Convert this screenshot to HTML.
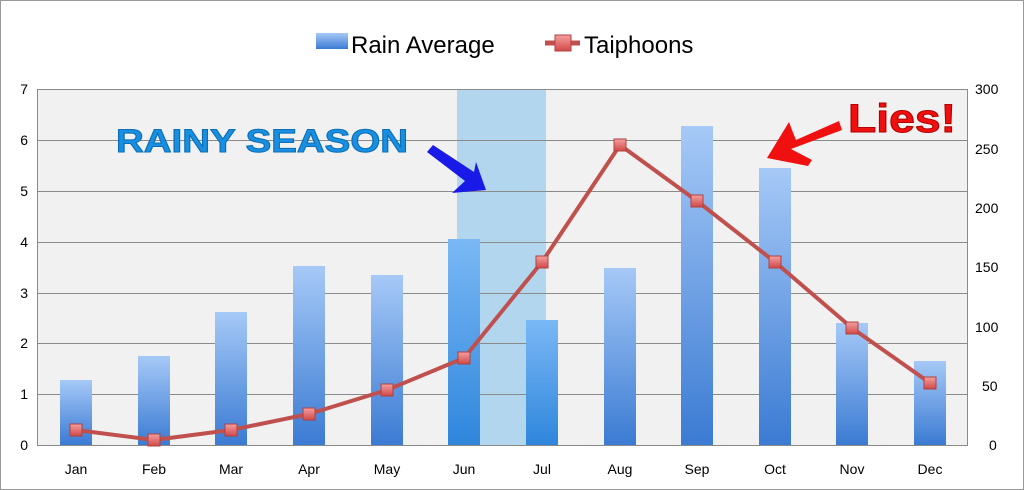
<!DOCTYPE html>
<html><head><style>body{margin:0;background:#fff}svg{display:block}</style></head><body>
<svg width="1024" height="490" xmlns="http://www.w3.org/2000/svg" font-family="Liberation Sans, sans-serif">
<defs>
<linearGradient id="b" x1="0" y1="0" x2="0" y2="1"><stop offset="0" stop-color="#a6c9f7"/><stop offset="1" stop-color="#3b7bd3"/></linearGradient>
<linearGradient id="bj" x1="0" y1="0" x2="0" y2="1"><stop offset="0" stop-color="#7ab8f5"/><stop offset="1" stop-color="#2f86dc"/></linearGradient>
<linearGradient id="m" x1="0" y1="0" x2="0" y2="1"><stop offset="0" stop-color="#f4a0a0"/><stop offset="1" stop-color="#d24848"/></linearGradient>
</defs>
<rect x="0.5" y="0.5" width="1023" height="489" fill="#fff" stroke="#999"/>
<rect x="37" y="89" width="931" height="356" fill="#f1f1f1"/>
<rect x="457" y="89" width="89" height="356" fill="#b2d6ee"/>
<g stroke="#8a8a8a" stroke-width="1">
<line x1="37" y1="89.5" x2="968" y2="89.5"/><line x1="37" y1="140.5" x2="968" y2="140.5"/><line x1="37" y1="191.5" x2="968" y2="191.5"/><line x1="37" y1="242.5" x2="968" y2="242.5"/><line x1="37" y1="293.5" x2="968" y2="293.5"/><line x1="37" y1="343.5" x2="968" y2="343.5"/><line x1="37" y1="394.5" x2="968" y2="394.5"/><line x1="37" y1="445.5" x2="968" y2="445.5"/>
<line x1="37.5" y1="89" x2="37.5" y2="445"/><line x1="967.5" y1="89" x2="967.5" y2="445"/>
</g>
<g fill="url(#b)">
<rect x="60" y="380" width="32" height="65"/>
<rect x="138" y="356" width="32" height="89"/>
<rect x="215" y="312" width="32" height="133"/>
<rect x="293" y="266" width="32" height="179"/>
<rect x="371" y="275" width="32" height="170"/>
<rect x="448" y="239" width="32" height="206" fill="url(#bj)"/>
<rect x="526" y="320" width="32" height="125" fill="url(#bj)"/>
<rect x="604" y="268" width="32" height="177"/>
<rect x="681" y="126" width="32" height="319"/>
<rect x="759" y="168" width="32" height="277"/>
<rect x="836" y="323" width="32" height="122"/>
<rect x="914" y="361" width="32" height="84"/>
</g>
<polyline fill="none" stroke="#c0504d" stroke-width="4" stroke-linejoin="round" points="76,430 154,440 231,430 309,414 387,390 464,358 542,262 620,145 697,201 775,262 852,328 930,383"/>
<g fill="url(#m)" stroke="#b04040" stroke-width="1">
<rect x="70" y="424" width="12" height="12"/><rect x="148" y="434" width="12" height="12"/><rect x="225" y="424" width="12" height="12"/><rect x="303" y="408" width="12" height="12"/><rect x="381" y="384" width="12" height="12"/><rect x="458" y="352" width="12" height="12"/><rect x="536" y="256" width="12" height="12"/><rect x="614" y="139" width="12" height="12"/><rect x="691" y="195" width="12" height="12"/><rect x="769" y="256" width="12" height="12"/><rect x="846" y="322" width="12" height="12"/><rect x="924" y="377" width="12" height="12"/>
</g>
<g font-size="14" fill="#000" text-anchor="end">
<text x="28" y="94">7</text><text x="28" y="145">6</text><text x="28" y="196">5</text><text x="28" y="247">4</text><text x="28" y="298">3</text><text x="28" y="348">2</text><text x="28" y="399">1</text><text x="28" y="450">0</text>
</g>
<g font-size="14" fill="#000" text-anchor="start">
<text x="975" y="94">300</text><text x="975" y="154">250</text><text x="975" y="213">200</text><text x="975" y="272">150</text><text x="975" y="332">100</text><text x="982" y="391">50</text><text x="989" y="450">0</text>
</g>
<g font-size="14" fill="#000" text-anchor="middle">
<text x="76" y="474">Jan</text><text x="154" y="474">Feb</text><text x="231" y="474">Mar</text><text x="309" y="474">Apr</text><text x="387" y="474">May</text><text x="464" y="474">Jun</text><text x="542" y="474">Jul</text><text x="620" y="474">Aug</text><text x="697" y="474">Sep</text><text x="775" y="474">Oct</text><text x="852" y="474">Nov</text><text x="930" y="474">Dec</text>
</g>
<rect x="316" y="33" width="32" height="16" fill="url(#b)"/>
<text x="351" y="53" font-size="24" fill="#000">Rain Average</text>
<line x1="545" y1="43" x2="580" y2="43" stroke="#c0504d" stroke-width="5"/>
<rect x="555" y="35" width="16" height="16" fill="url(#m)" stroke="#b04040"/>
<text x="584" y="53" font-size="24" fill="#000">Taiphoons</text>
<text x="116" y="152" font-size="32" font-weight="bold" fill="#1a8ee0" stroke="#0b6fb8" stroke-width="1" style="letter-spacing:0px" textLength="292" lengthAdjust="spacingAndGlyphs">RAINY SEASON</text>
<polygon points="427,152 433,145 474,172 476,162 486,190 452,193 465,181" fill="#1a1ae8"/>
<text x="848" y="132" font-size="40" font-weight="bold" fill="#f01010" stroke="#b00000" stroke-width="1" textLength="108" lengthAdjust="spacingAndGlyphs">Lies!</text>
<polygon points="839,121 842,130 791,149 812,160 808,166 767,158 789,122 792,130 796,140" fill="#f01010"/>
</svg>
</body></html>
